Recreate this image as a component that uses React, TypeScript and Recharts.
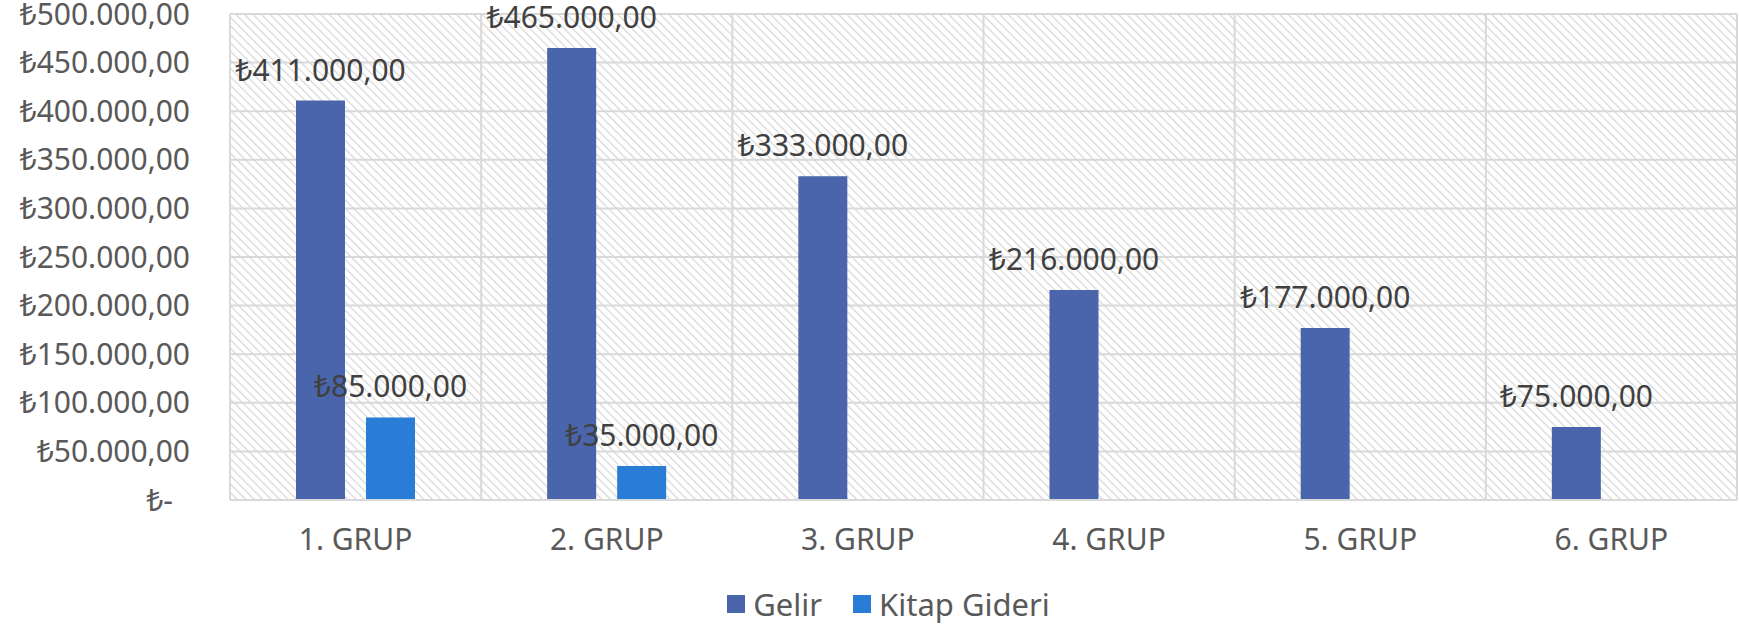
import {
  BarChart,
  Bar,
  XAxis,
  YAxis,
  CartesianGrid,
  Legend,
  LabelList,
} from "recharts";

const categories = ["1. GRUP", "2. GRUP", "3. GRUP", "4. GRUP", "5. GRUP", "6. GRUP"];
const gelir = [411000, 465000, 333000, 216000, 177000, 75000];
const kitapGideri = [85000, 35000, null, null, null, null];
const yTicks = [0, 50000, 100000, 150000, 200000, 250000, 300000, 350000, 400000, 450000, 500000];

const data = categories.map((name, i) => ({
  name,
  gelir: gelir[i],
  kitap: kitapGideri[i],
}));

const FONT = '"Noto Sans", "DejaVu Sans", sans-serif';

// Turkish money format: ₺411.000,00
const lira = (v: unknown): string => {
  if (v === null || v === undefined || v === "") return "";
  const n = Number(v);
  if (n === 0) return "₺-";
  const whole = Math.round(n)
    .toString()
    .replace(/\B(?=(\d{3})+(?!\d))/g, ".");
  return `₺${whole},00`;
};

// y tick, the zero label sits a bit further in (accounting format)
const YTick = (props: any) => {
  const { x, y, payload } = props;
  const isZero = payload.value === 0;
  return (
    <text
      x={x - (isZero ? 17 : 0)}
      y={y}
      dy="0.355em"
      textAnchor="end"
      fill="#595959"
      fontSize={30}
      fontFamily={FONT}
    >
      {lira(payload.value)}
    </text>
  );
};

const LegendBox = () => (
  <div
    style={{
      display: "flex",
      justifyContent: "center",
      alignItems: "center",
      paddingLeft: 40,
      fontFamily: FONT,
      fontSize: 31,
      color: "#595959",
      height: 40,
    }}
  >
    <span style={{ width: 18, height: 18, background: "#4A65AC", marginRight: 8 }} />
    <span style={{ marginRight: 31 }}>Gelir</span>
    <span style={{ width: 18, height: 18, background: "#2A7DD6", marginRight: 8 }} />
    <span>Kitap Gideri</span>
  </div>
);

export default function App() {
  return (
    <div style={{ position: "absolute", left: 0, top: 0, background: "#fff" }}>
      <BarChart
        width={1739}
        height={630}
        data={data}
        margin={{ top: 14, right: 2, bottom: 30, left: 0 }}
        barSize={49}
        barGap={21}
      >
        <defs>
          <pattern
            id="hatch"
            width="6"
            height="6"
            patternUnits="userSpaceOnUse"
            patternTransform="rotate(-45)"
          >
            <rect width="6" height="6" fill="#ffffff" />
            <line x1="0" y1="0" x2="0" y2="6" stroke="#d6d6d6" strokeWidth="2.4" />
          </pattern>
        </defs>
        <CartesianGrid
          fill="url(#hatch)"
          fillOpacity={1}
          stroke="#d9d9d9"
          strokeWidth={2}
          verticalCoordinatesGenerator={({ offset }: any) =>
            categories
              .map((_, i) => offset.left + (i * offset.width) / categories.length)
              .concat(offset.left + offset.width)
          }
        />
        <XAxis
          dataKey="name"
          tickLine={false}
          axisLine={{ stroke: "#d9d9d9", strokeWidth: 2 }}
          tickSize={0}
          tickMargin={29}
          height={60}
          tick={{ fill: "#595959", fontSize: 30, fontFamily: FONT }}
          interval={0}
        />
        <YAxis
          width={230}
          domain={[0, 500000]}
          ticks={yTicks}
          tickLine={false}
          axisLine={false}
          tickSize={0}
          tickMargin={40}
          tick={<YTick />}
        />
        <Legend
          verticalAlign="bottom"
          content={<LegendBox />}
          wrapperStyle={{ bottom: 6 }}
        />
        <Bar dataKey="gelir" name="Gelir" fill="#4A65AC" isAnimationActive={false}>
          <LabelList
            dataKey="gelir"
            position="top"
            offset={20}
            formatter={lira}
            fill="#404040"
            fontSize={30}
            fontFamily={FONT}
          />
        </Bar>
        <Bar dataKey="kitap" name="Kitap Gideri" fill="#2A7DD6" isAnimationActive={false}>
          <LabelList
            dataKey="kitap"
            position="top"
            offset={20}
            formatter={lira}
            fill="#404040"
            fontSize={30}
            fontFamily={FONT}
          />
        </Bar>
      </BarChart>
    </div>
  );
}
